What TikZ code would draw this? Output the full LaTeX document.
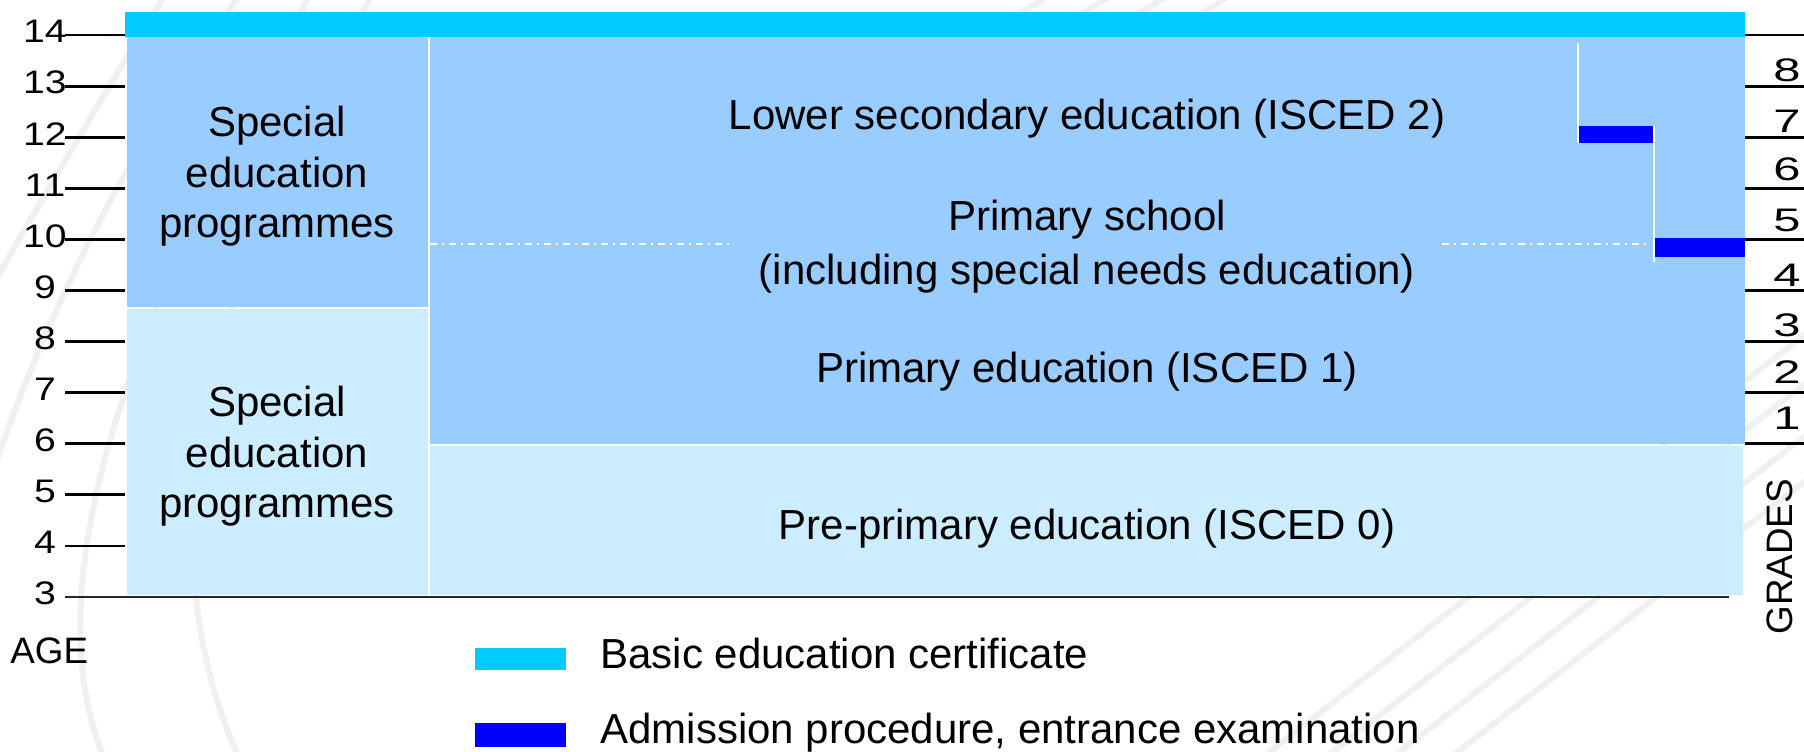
\documentclass[tikz,border=0pt]{standalone}
\usepackage{fontspec}
\setmainfont{Liberation Sans}
\newfontfamily\agedigits[FakeStretch=1.2]{Liberation Sans}
\newfontfamily\gradedigits[FakeStretch=1.5]{Liberation Sans}
\definecolor{certcyan}{HTML}{00CCFF}
\definecolor{levelmid}{HTML}{99CCFF}
\definecolor{levellight}{HTML}{CCECFF}
\definecolor{admitblue}{HTML}{0000FF}
\definecolor{wmgray}{HTML}{F0F0F0}
\begin{document}
\begin{tikzpicture}[x=0.5pt,y=-0.5pt,
  lbl/.style={font=\fontsize{21}{25.3}\selectfont, align=center, inner sep=0pt},
  agenum/.style={font=\agedigits\fontsize{16.3}{19}\selectfont, inner sep=0pt},
  gradenum/.style={font=\gradedigits\fontsize{16.3}{19}\selectfont, inner sep=0pt, anchor=east},
  axislbl/.style={font=\fontsize{18.4}{22}\selectfont, inner sep=0pt},
  legendlbl/.style={font=\fontsize{21}{24}\selectfont, inner sep=0pt, anchor=base west},
  tickline/.style={line width=1.4pt, black},
  stripe/.style={draw=wmgray, line width=3pt},
  sepline/.style={draw=white, line width=1pt},
  dashdotline/.style={draw=white, line width=1pt, dash pattern=on 3.5pt off 2.5pt on 1pt off 2.5pt}]
\useasboundingbox (0,0) rectangle (1804,751);
\fill[white] (0,0) rectangle (1804,751);

% faint watermark strokes in the background
\draw[stripe] (165,-5) .. controls (100,100) and (30,220) .. (-10,290);
\draw[stripe] (240,-5) .. controls (140,130) and (50,300) .. (-10,480);
\draw[stripe] (310,-5) .. controls (170,250) and (20,560) .. (105,760);
\draw[stripe] (372,-5) .. controls (230,250) and (130,520) .. (240,760);
\foreach \sx in {1042,1104,1161,1223}
  \draw[stripe] (\sx+8,-5) -- ++(-120,75);
\foreach \sx in {1271,1334,1401,1459}
  \draw[stripe] (\sx-13,761) -- ++(1000,-780);

% certificate bar
\fill[certcyan] (125,12) rectangle (1745,37);
% special education blocks
\fill[levelmid] (127,37) rectangle (428,307);
\fill[levellight] (127,309) rectangle (428,595);
% primary and lower secondary
\fill[levelmid] (430,37) rectangle (1745,444);
% pre-primary
\fill[levellight] (430,446) rectangle (1743,595);

% boundary between primary school years
\draw[dashdotline] (430,244) -- (732,244);
\draw[dashdotline] (1442,244) -- (1650,244);

% admission steps
\fill[admitblue] (1577,126) rectangle (1654,143);
\fill[admitblue] (1654,238) rectangle (1745,257);
\draw[sepline] (1578,43) -- (1578,143);
\draw[sepline] (1654,126) -- (1654,262);

% level labels
\node[lbl] (specup) at (277,176.5) {Special\\education\\programmes};
\node[lbl] (speclow) at (277,456.5) {Special\\education\\programmes};
\node[lbl] (isced2) at (1087,119) {Lower secondary education (ISCED 2)};
\node[lbl, font=\fontsize{21}{27}\selectfont] (primsch) at (1087,247) {Primary school\\(including special needs education)};
\node[lbl] (isced1) at (1087,372) {Primary education (ISCED 1)};
\node[lbl] (isced0) at (1087,529) {Pre-primary education (ISCED 0)};

% age axis
\draw[line width=1.2pt, black!85] (65,597) -- (1729,597);
\foreach \a in {4,...,14}
  \draw[tickline] (65,{597-(\a-3)*51.09}) -- (125,{597-(\a-3)*51.09});
\foreach \a in {3,...,14}
  \node[agenum] (age\a) at (45,{593.5-(\a-3)*51.09}) {\a};
\node[axislbl, anchor=base west] (agetitle) at (10,663) {AGE};

% grade axis
\foreach \a in {6,...,14}
  \draw[tickline] (1745,{597-(\a-3)*51.09}) -- (1804,{597-(\a-3)*51.09});
\foreach \g/\gy in {8/70,7/121,6/169,5/220,4/275,3/325,2/372,1/418}
  \node[gradenum] (grade\g) at (1801,\gy) {\g};
\node[axislbl, anchor=base west, rotate=90] (gradetitle) at (1792,635) {GRADES};

% legend
\fill[certcyan] (475,648) rectangle (566,670);
\fill[admitblue] (475,723) rectangle (566,747);
\node[legendlbl] (legcert) at (600,668) {Basic education certificate};
\node[legendlbl] (legadmit) at (600,743) {Admission procedure, entrance examination};
\end{tikzpicture}
\end{document}
